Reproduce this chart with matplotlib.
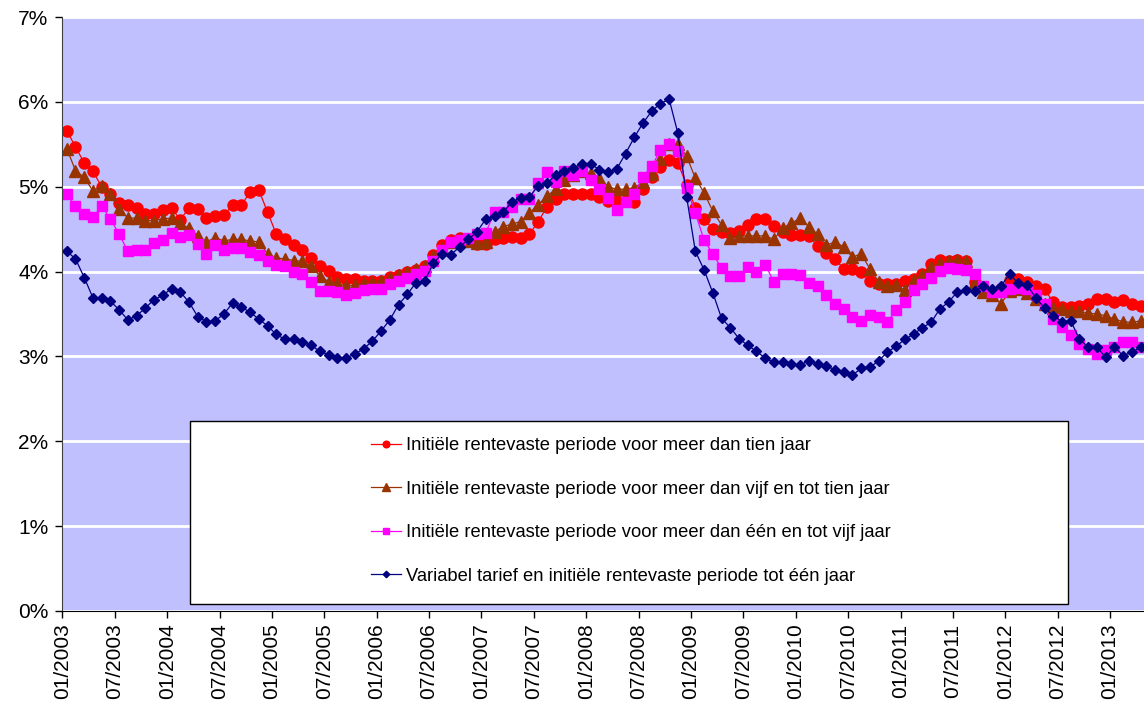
import matplotlib
matplotlib.use("Agg")
import matplotlib.pyplot as plt
from matplotlib.patches import Rectangle
from matplotlib.ticker import FuncFormatter

# monthly data 01/2003 - 04/2013 (percent)
tien_jaar = [
    5.66, 5.47, 5.28, 5.18, 5.00, 4.91, 4.81, 4.78, 4.75, 4.68,
    4.68, 4.73, 4.75, 4.61, 4.75, 4.74, 4.63, 4.65, 4.67, 4.78,
    4.78, 4.94, 4.96, 4.70, 4.44, 4.38, 4.31, 4.26, 4.16, 4.07,
    4.01, 3.94, 3.91, 3.91, 3.89, 3.89, 3.89, 3.94, 3.96, 3.99,
    4.02, 4.07, 4.19, 4.31, 4.37, 4.40, 4.38, 4.33, 4.33, 4.38,
    4.40, 4.41, 4.40, 4.44, 4.59, 4.76, 4.86, 4.92, 4.92, 4.91,
    4.91, 4.88, 4.83, 4.83, 4.83, 4.82, 4.97, 5.12, 5.23, 5.31,
    5.28, 5.02, 4.75, 4.62, 4.50, 4.47, 4.45, 4.48, 4.55, 4.62,
    4.62, 4.54, 4.47, 4.43, 4.43, 4.42, 4.30, 4.22, 4.15, 4.03,
    4.03, 4.00, 3.89, 3.85, 3.85, 3.85, 3.89, 3.91, 3.97, 4.09,
    4.14, 4.13, 4.14, 4.12, 3.88, 3.80, 3.72, 3.80, 3.90, 3.91,
    3.88, 3.83, 3.79, 3.64, 3.58, 3.58, 3.59, 3.62, 3.68, 3.68,
    3.64, 3.66, 3.62, 3.59,
]
vijf_tien = [
    5.45, 5.19, 5.11, 4.95, 5.01, 4.91, 4.74, 4.63, 4.63, 4.60,
    4.60, 4.62, 4.63, 4.57, 4.51, 4.42, 4.35, 4.40, 4.36, 4.38,
    4.38, 4.36, 4.35, 4.21, 4.16, 4.15, 4.13, 4.12, 4.06, 3.95,
    3.88, 3.86, 3.83, 3.84, 3.87, 3.88, 3.89, 3.93, 3.96, 3.99,
    4.03, 4.07, 4.18, 4.28, 4.35, 4.38, 4.36, 4.34, 4.35, 4.47,
    4.53, 4.56, 4.59, 4.69, 4.79, 4.89, 4.97, 5.08, 5.14, 5.19,
    5.16, 5.10, 5.00, 4.97, 4.97, 4.99, 5.05, 5.15, 5.33, 5.50,
    5.50, 5.36, 5.10, 4.93, 4.71, 4.55, 4.40, 4.42, 4.42, 4.42,
    4.42, 4.38, 4.51, 4.57, 4.63, 4.53, 4.44, 4.31, 4.35, 4.29,
    4.17, 4.21, 4.03, 3.88, 3.83, 3.84, 3.78, 3.90, 3.96, 4.05,
    4.10, 4.12, 4.14, 4.13, 3.88, 3.76, 3.72, 3.62, 3.77, 3.80,
    3.75, 3.68, 3.62, 3.57, 3.56, 3.54, 3.53, 3.51, 3.50, 3.48,
    3.44, 3.41, 3.40, 3.42,
]
een_vijf = [
    4.91, 4.77, 4.68, 4.64, 4.77, 4.62, 4.44, 4.24, 4.25, 4.25,
    4.34, 4.37, 4.46, 4.41, 4.43, 4.33, 4.21, 4.31, 4.25, 4.28,
    4.28, 4.23, 4.20, 4.12, 4.08, 4.07, 3.99, 3.97, 3.88, 3.77,
    3.77, 3.76, 3.72, 3.75, 3.78, 3.80, 3.80, 3.85, 3.89, 3.93,
    3.97, 4.01, 4.13, 4.25, 4.35, 4.37, 4.40, 4.44, 4.46, 4.70,
    4.70, 4.76, 4.86, 4.86, 5.04, 5.17, 5.05, 5.19, 5.14, 5.19,
    5.08, 4.97, 4.87, 4.73, 4.82, 4.91, 5.12, 5.24, 5.43, 5.50,
    5.42, 4.98, 4.69, 4.37, 4.21, 4.04, 3.95, 3.95, 4.05, 4.00,
    4.08, 3.88, 3.97, 3.97, 3.96, 3.87, 3.83, 3.72, 3.62, 3.56,
    3.47, 3.42, 3.49, 3.47, 3.41, 3.55, 3.64, 3.78, 3.85, 3.92,
    4.01, 4.04, 4.03, 4.02, 3.97, 3.83, 3.76, 3.76, 3.80, 3.81,
    3.80, 3.72, 3.62, 3.44, 3.35, 3.25, 3.15, 3.09, 3.03, 3.07,
    3.11, 3.17, 3.17, 3.11,
]
variabel = [
    4.24, 4.15, 3.93, 3.69, 3.69, 3.65, 3.55, 3.43, 3.48, 3.57,
    3.67, 3.72, 3.80, 3.76, 3.64, 3.47, 3.41, 3.42, 3.50, 3.63,
    3.58, 3.52, 3.44, 3.36, 3.26, 3.20, 3.20, 3.17, 3.13, 3.06,
    3.02, 2.98, 2.98, 3.03, 3.09, 3.18, 3.30, 3.43, 3.61, 3.73,
    3.87, 3.89, 4.10, 4.21, 4.20, 4.29, 4.38, 4.47, 4.62, 4.65,
    4.70, 4.82, 4.87, 4.88, 5.01, 5.04, 5.14, 5.19, 5.22, 5.27,
    5.27, 5.20, 5.17, 5.21, 5.39, 5.58, 5.75, 5.89, 5.98, 6.03,
    5.63, 4.88, 4.24, 4.02, 3.75, 3.45, 3.34, 3.21, 3.13, 3.06,
    2.98, 2.93, 2.94, 2.91, 2.90, 2.95, 2.91, 2.89, 2.84, 2.82,
    2.78, 2.86, 2.87, 2.95, 3.05, 3.12, 3.20, 3.26, 3.34, 3.40,
    3.56, 3.64, 3.76, 3.78, 3.77, 3.83, 3.80, 3.83, 3.97, 3.86,
    3.84, 3.69, 3.57, 3.48, 3.41, 3.42, 3.20, 3.11, 3.11, 2.99,
    3.11, 3.01, 3.05, 3.11,
]

labels = [
    "Initiële rentevaste periode voor meer dan tien jaar",
    "Initiële rentevaste periode voor meer dan vijf en tot tien jaar",
    "Initiële rentevaste periode voor meer dan één en tot vijf jaar",
    "Variabel tarief en initiële rentevaste periode tot één jaar",
]

months = list(range(len(tien_jaar)))
tick_pos = [m - 0.5 for m in range(0, 121, 6)]
tick_labels = [("01" if k % 2 == 0 else "07") + "/" + str(2003 + k // 2)
               for k in range(len(tick_pos))]

plt.rcParams["font.family"] = ["Liberation Sans", "DejaVu Sans"]

fig = plt.figure(figsize=(11.44, 7.06), dpi=100)
ax = fig.add_axes([62.4 / 1144, 95 / 706, 1081.6 / 1144, 594 / 706])
ax.set_facecolor("#C0C0FF")

ax.plot(months, tien_jaar, color="#FF0000", lw=0.9, marker="o", ms=8,
        label=labels[0])
ax.plot(months, vijf_tien, color="#993300", lw=0.9, marker="^", ms=8.5,
        label=labels[1])
ax.plot(months, een_vijf, color="#FF00FF", lw=0.9, marker="s", ms=7.5,
        label=labels[2])
ax.plot(months, variabel, color="#000080", lw=0.9, marker="D", ms=5.5,
        label=labels[3])

ax.set_xlim(-0.5, 123.39)
ax.set_ylim(0, 7)
ax.set_yticks(range(0, 8))
ax.yaxis.set_major_formatter(FuncFormatter(lambda v, p: "%d%%" % v))
ax.set_xticks(tick_pos)
ax.set_xticklabels(tick_labels, rotation=90)
ax.tick_params(axis="both", labelsize=15, direction="out", length=5,
               width=1, colors="black")
ax.tick_params(axis="x", pad=4)
ax.tick_params(axis="y", pad=5)
ax.grid(axis="y", color="white", lw=2)
ax.set_axisbelow(True)
for s in ["top", "right"]:
    ax.spines[s].set_visible(False)
ax.spines["left"].set_color("#404040")
ax.spines["bottom"].set_color("black")

# legend box
box = Rectangle((190 / 1144, (706 - 604) / 706), 878 / 1144, 183 / 706,
                transform=fig.transFigure, facecolor="white",
                edgecolor="black", lw=1, zorder=5)
ax.add_artist(box)
box.set_clip_on(False)
leg = ax.legend(loc="center", bbox_to_anchor=(631 / 1144, (706 - 511) / 706),
                bbox_transform=fig.transFigure, frameon=False, fontsize=13.2,
                labelspacing=1.45, handlelength=1.65, handletextpad=0.3,
                markerscale=0.6)
leg.set_zorder(6)

fig.savefig("out.png", dpi=100)
